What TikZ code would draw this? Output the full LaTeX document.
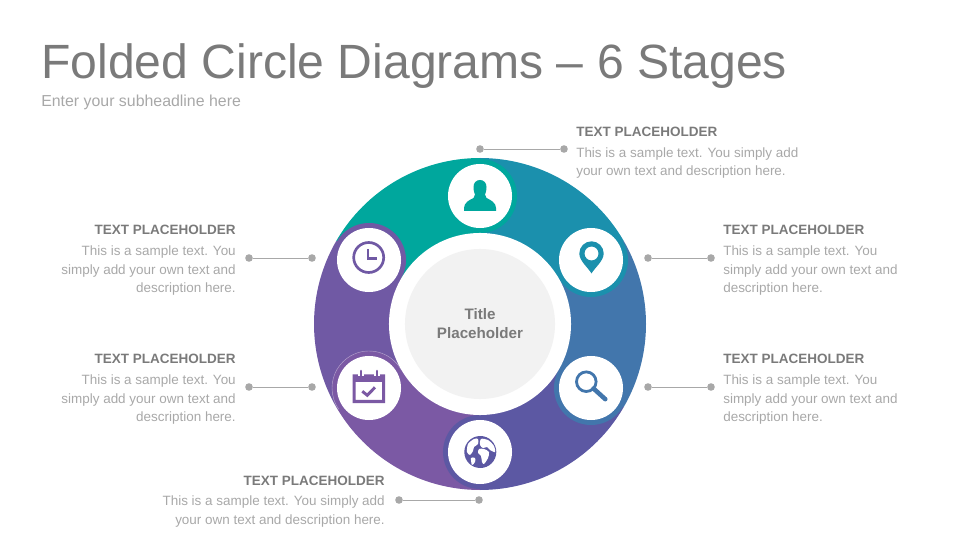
\documentclass[tikz,border=0pt]{standalone}
\usepackage{fontspec}
\setmainfont{Liberation Sans}
\definecolor{foldteal}{HTML}{00A79D}
\definecolor{foldblue}{HTML}{1B90AD}
\definecolor{foldsteel}{HTML}{4276AC}
\definecolor{foldindigo}{HTML}{5C58A3}
\definecolor{foldviolet}{HTML}{7B59A4}
\definecolor{foldpurple}{HTML}{7059A4}
\definecolor{inkdark}{HTML}{7A7A7A}
\definecolor{inklight}{HTML}{A8A8A8}
\tikzset{
  fold/.style={circle,fill=#1,minimum size=1.85cm,inner sep=0pt},
  iconhole/.style={circle,fill=white,minimum size=1.6cm,inner sep=0pt},
  dot/.style={circle,fill=inklight,minimum size=0.19cm,inner sep=0pt,outer sep=0pt},
  lead/.style={draw=inklight,line width=0.7pt},
  headline/.style={inner sep=0pt,text=inkdark,font=\bfseries\fontsize{9.6}{13.5}\selectfont},
  bodytext/.style={inner sep=0pt,text=inklight,font=\fontsize{9.57}{13.47}\selectfont}
}
\begin{document}
\begin{tikzpicture}[x=0.025cm,y=0.025cm]
\useasboundingbox (0,0) rectangle (960,540);
% title
\node[anchor=base west,inner sep=0pt,text=inkdark,font=\fontsize{34.2}{36}\selectfont] at (41,461) (title) {Folded Circle Diagrams – 6 Stages};
\node[anchor=base west,inner sep=0pt,text=inklight,font=\fontsize{11.3}{13}\selectfont] at (41,433) (subtitle) {Enter your subheadline here};
% ring
\coordinate (hub) at (480,216);
\fill[foldteal] (hub) -- ++(150:166) arc (150:90:166) -- cycle;
\fill[foldblue] (hub) -- ++(90:166) arc (90:30:166) -- cycle;
\fill[foldsteel] (hub) -- ++(30:166) arc (30:-30:166) -- cycle;
\fill[foldindigo] (hub) -- ++(-30:166) arc (-30:-90:166) -- cycle;
\fill[foldviolet] (hub) -- ++(-90:166) arc (-90:-150:166) -- cycle;
\fill[foldpurple] (hub) -- ++(-150:166) arc (-150:-210:166) -- cycle;
% folds
\node[fold=foldteal] at (480,344) (userfold) {};
\node[fold=foldblue] at (591,280) (pinfold) {};
\node[fold=foldsteel] at (591,152) (lensfold) {};
\node[fold=foldindigo] at (480,88) (globefold) {};
\node[fold=foldviolet] at (369,152) (calfold) {};
\node[fold=foldpurple] at (369,280) (clockfold) {};
\draw[white!45!foldviolet,line width=0.3pt] (calfold) ++(30:37) arc (30:215:37);
% centre
\node[circle,fill=white,minimum size=4.55cm,inner sep=0pt] at (hub) (hubring) {};
\node[circle,fill=black!5,minimum size=3.75cm,inner sep=0pt,align=center,text=inkdark,font=\bfseries\fontsize{10.8}{13.5}\selectfont] at (hub) (hubtitle) {Title\\Placeholder};
% icon holes
\node[iconhole] at (480,344) (user) {};
\node[iconhole] at (591,280) (pin) {};
\node[iconhole] at (591,152) (lens) {};
\node[iconhole] at (480,88) (globe) {};
\node[iconhole] at (369,152) (cal) {};
\node[iconhole] at (369,280) (clock) {};
% user icon
\begin{scope}[shift={(user)}]
\fill[foldteal] (-16,-15) -- (-16,-12) .. controls (-16,-7) and (-11,-4) .. (-6.5,-2) .. controls (-5.5,-1) and (-5,0) .. (-5,1.5) .. controls (-6.5,5) and (-6.5,8) .. (-6.5,9) .. controls (-6.5,13.5) and (-3.5,16) .. (0,16) .. controls (3.5,16) and (6.5,13.5) .. (6.5,9) .. controls (6.5,8) and (6.5,5) .. (5,1.5) .. controls (5,0) and (5.5,-1) .. (6.5,-2) .. controls (11,-4) and (16,-7) .. (16,-12) -- (16,-15) -- cycle;
\end{scope}
% pin icon
\begin{scope}[shift={(pin)}]
\fill[foldblue,even odd rule] (0.5,-13.5) .. controls (-2.5,-8) and (-11.7,-1) .. (-11.7,6.5) arc (180:0:12.2) .. controls (12.7,-1) and (3.5,-8) .. (0.5,-13.5) -- cycle (0.5,6.5) circle (7);
\end{scope}
% lens icon
\begin{scope}[shift={(lens)}]
\draw[foldsteel,line width=2pt] (-4.7,6.3) circle (9.8);
\draw[foldsteel,line width=3.2pt,line cap=round] (2.5,-0.5) -- (14.3,-11.2);
\end{scope}
% globe icon
\begin{scope}[shift={(globe)}]
\fill[foldindigo] (0.3,0) circle (16);
\begin{scope}
\clip (0.3,0) circle (16);
\fill[white] plot[smooth cycle] coordinates {(-12,8) (-6,13) (-2,13) (-2,8) (-6,5) (-7,1) (-10,-3) (-13,0)};
\fill[white] plot[smooth cycle] coordinates {(1,13) (8,12) (14,6) (15,0) (10,2) (7,5) (3,4) (0,7)};
\fill[white] plot[smooth cycle] coordinates {(-1,3) (4,3) (9,0) (8,-6) (4,-12) (2,-10) (1,-4) (-2,-1)};
\fill[white] plot[smooth cycle] coordinates {(-9,-6) (-5,-6) (-5,-10) (-8,-13)};
\end{scope}
\end{scope}
% calendar icon
\begin{scope}[shift={(cal)}]
\fill[foldviolet,even odd rule] (-16.5,13.5) rectangle (16,-15) (-13.5,6) rectangle (13,-12);
\draw[white,line width=3.6pt] (-8,12) -- (-8,15) (8,12) -- (8,15);
\draw[foldviolet,line width=1.8pt,line cap=round] (-8,11) -- (-8,17) (8,11) -- (8,17);
\draw[foldviolet,line width=2.1pt] (-6.7,-3.3) -- (-1.7,-7.3) -- (6,0.7);
\end{scope}
% clock icon
\begin{scope}[shift={(clock)}]
\draw[foldpurple,line width=1.9pt] (-0.3,2.5) circle (15);
\draw[foldpurple,line width=1.9pt] (-1,11) -- (-1,1.5) -- (8,1.5);
\end{scope}
% leaders
\node[dot] at (480,391) (userdotA) {};
\node[dot] at (564,391) (userdotB) {};
\node[dot] at (648,282) (pindotA) {};
\node[dot] at (711,282) (pindotB) {};
\node[dot] at (648,153) (lensdotA) {};
\node[dot] at (711,153) (lensdotB) {};
\node[dot] at (399,40) (globedotA) {};
\node[dot] at (479,40) (globedotB) {};
\node[dot] at (249,153) (caldotA) {};
\node[dot] at (312,153) (caldotB) {};
\node[dot] at (249,282) (clockdotA) {};
\node[dot] at (312,282) (clockdotB) {};
\draw[lead] (userdotA) -- (userdotB);
\draw[lead] (pindotA) -- (pindotB);
\draw[lead] (lensdotA) -- (lensdotB);
\draw[lead] (globedotA) -- (globedotB);
\draw[lead] (caldotA) -- (caldotB);
\draw[lead] (clockdotA) -- (clockdotB);
% labels
\node[headline,anchor=base west] at (576,403) (userhead) {TEXT PLACEHOLDER};
\node[bodytext,anchor=base west,align=left] at (576,364) (userbody) {This is a sample text. You simply add\\your own text and description here.};
\node[headline,anchor=base west] at (723,305) (pinhead) {TEXT PLACEHOLDER};
\node[bodytext,anchor=base west,align=left] at (723,247) (pinbody) {This is a sample text. You\\simply add your own text and\\description here.};
\node[headline,anchor=base west] at (723,176) (lenshead) {TEXT PLACEHOLDER};
\node[bodytext,anchor=base west,align=left] at (723,118) (lensbody) {This is a sample text. You\\simply add your own text and\\description here.};
\node[headline,anchor=base east] at (385,55) (globehead) {TEXT PLACEHOLDER};
\node[bodytext,anchor=base east,align=right] at (385,16) (globebody) {This is a sample text. You simply add\\your own text and description here.};
\node[headline,anchor=base east] at (236,176) (calhead) {TEXT PLACEHOLDER};
\node[bodytext,anchor=base east,align=right] at (236,118) (calbody) {This is a sample text. You\\simply add your own text and\\description here.};
\node[headline,anchor=base east] at (236,305) (clockhead) {TEXT PLACEHOLDER};
\node[bodytext,anchor=base east,align=right] at (236,247) (clockbody) {This is a sample text. You\\simply add your own text and\\description here.};
\end{tikzpicture}
\end{document}
